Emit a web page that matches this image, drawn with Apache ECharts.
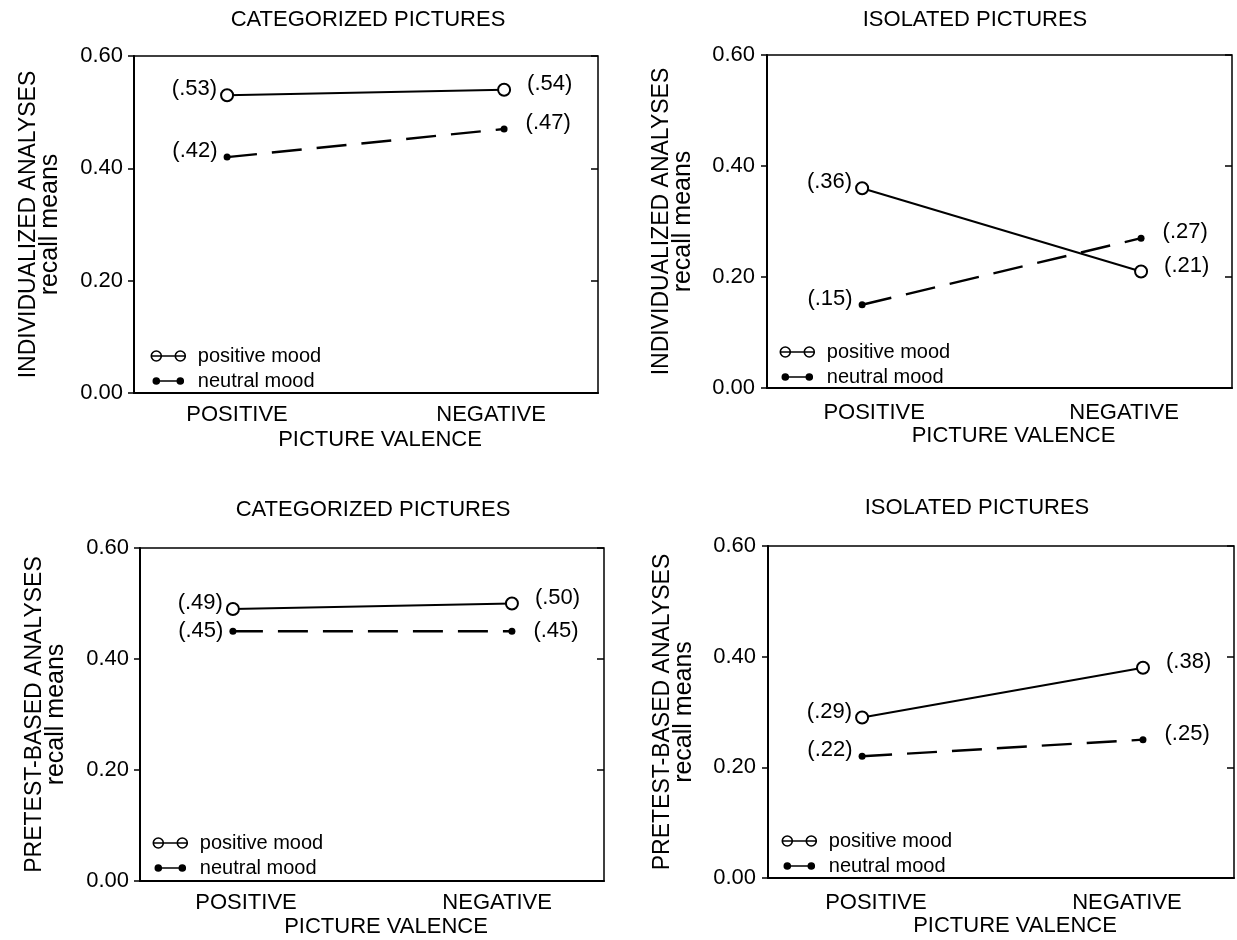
<!DOCTYPE html>
<html>
<head>
<meta charset="utf-8">
<script src="https://cdn.jsdelivr.net/npm/echarts@6/dist/echarts.min.js"></script>
<style>
html,body{margin:0;padding:0;background:#fff;}
#chart{width:1237px;height:940px;}
</style>
</head>
<body>
<div id="chart"></div>
<script>
// ---------- data ----------
const categories = ['POSITIVE', 'NEGATIVE'];
const seriesNames = ['positive mood', 'neutral mood'];
const panelTitles = ['CATEGORIZED PICTURES', 'ISOLATED PICTURES', 'CATEGORIZED PICTURES', 'ISOLATED PICTURES'];
const yAxisTitles = ['INDIVIDUALIZED ANALYSES', 'INDIVIDUALIZED ANALYSES', 'PRETEST-BASED ANALYSES', 'PRETEST-BASED ANALYSES'];
const yAxisSubtitle = 'recall means';
const xAxisTitle = 'PICTURE VALENCE';
const yTickMin = 0, yTickMax = 0.6, yTickStep = 0.2;

const individualizedCategorizedPositive = [0.53, 0.54];
const individualizedCategorizedNeutral  = [0.42, 0.47];
const individualizedIsolatedPositive    = [0.36, 0.21];
const individualizedIsolatedNeutral     = [0.15, 0.27];
const pretestCategorizedPositive        = [0.49, 0.50];
const pretestCategorizedNeutral         = [0.45, 0.45];
const pretestIsolatedPositive           = [0.29, 0.38];
const pretestIsolatedNeutral            = [0.22, 0.25];

const panelPositive = [individualizedCategorizedPositive, individualizedIsolatedPositive, pretestCategorizedPositive, pretestIsolatedPositive];
const panelNeutral  = [individualizedCategorizedNeutral, individualizedIsolatedNeutral, pretestCategorizedNeutral, pretestIsolatedNeutral];

// ---------- layout / style ----------
const FONT = "'Liberation Sans', Arial, sans-serif";
const layouts = [
  {left:134, top:56,  width:464, height:337, xmin:-0.336, xmax:1.339, lab:[0.036,0.953], labMargin:11, nameGap:36, title:[368,20],  legend:[150,346], nLabOff:-6, yLabMargin:11},
  {left:767, top:55,  width:465, height:333, xmin:-0.341, xmax:1.326, lab:[0.043,0.939], labMargin:14, nameGap:34, title:[975,20],  legend:[779,342], nLabOff:-6, yLabMargin:12},
  {left:140, top:548, width:464, height:333, xmin:-0.333, xmax:1.330, lab:[0.047,0.947], labMargin:11, nameGap:35, title:[373,510], legend:[152,833], nLabOff:0,  yLabMargin:11},
  {left:768, top:546, width:466, height:332, xmin:-0.335, xmax:1.324, lab:[0.049,0.943], labMargin:14, nameGap:36, title:[977,508], legend:[781,831], nLabOff:-6, yLabMargin:12}
];

const openIcon = 'path://M0,0M35,11M0.5,5.5A5,5,0,1,1,10.5,5.5A5,5,0,1,1,0.5,5.5ZM1,5.5L34,5.5M24.5,5.5A5,5,0,1,1,34.5,5.5A5,5,0,1,1,24.5,5.5Z';
const dotIcon  = 'path://M0,0M35,11M2.5,5.5A3,3,0,1,1,8.5,5.5A3,3,0,1,1,2.5,5.5ZM5.5,5.5L29.5,5.5M26.5,5.5A3,3,0,1,1,32.5,5.5A3,3,0,1,1,26.5,5.5Z';

function labelFmt(p) { return '(' + p.value[1].toFixed(2).slice(1) + ')'; }

function buildData(values, isOpen, yOff) {
  return values.map(function (v, i) {
    return {
      value: [i, v],
      label: {
        position: i === 0 ? 'left' : 'right',
        distance: i === 0 ? (isOpen ? 3 : 6) : (isOpen ? 16 : 18),
        offset: [0, yOff]
      }
    };
  });
}

const grid = [], xAxis = [], yAxis = [], series = [], legend = [], graphic = [];

layouts.forEach(function (L, g) {
  grid.push({left:L.left, top:L.top, width:L.width, height:L.height, show:true, borderColor:'#000', borderWidth:1.5, backgroundColor:'transparent'});
  xAxis.push({
    type:'value', gridIndex:g, min:L.xmin, max:L.xmax,
    splitLine:{show:false}, axisTick:{show:false},
    axisLine:{show:true, onZero:false, lineStyle:{color:'#000', width:2}},
    axisLabel:{customValues:L.lab, margin:L.labMargin, color:'#000', fontSize:22, fontFamily:FONT,
      formatter:function (v) { return v < 0.5 ? categories[0] : categories[1]; }},
    name:xAxisTitle, nameLocation:'middle', nameGap:L.nameGap,
    nameTextStyle:{color:'#000', fontSize:22, fontFamily:FONT, padding:[0,0,0,28]}
  });
  yAxis.push({
    type:'value', gridIndex:g, min:yTickMin, max:yTickMax, interval:yTickStep, position:'left',
    splitLine:{show:false},
    axisLine:{show:true, onZero:false, lineStyle:{color:'#000', width:2}},
    axisTick:{show:true, length:6, lineStyle:{color:'#000', width:1.5}},
    axisLabel:{color:'#000', fontSize:22, fontFamily:FONT, margin:L.yLabMargin, formatter:function (v) { return v.toFixed(2); }},
    name:'{a|' + yAxisTitles[g] + '}\n{b|' + yAxisSubtitle + '}',
    nameLocation:'middle', nameGap:74, nameRotate:90,
    nameTextStyle:{color:'#000', fontFamily:FONT, lineHeight:21,
      rich:{a:{fontSize:23, lineHeight:22, fontFamily:FONT, color:'#000'}, b:{fontSize:25, lineHeight:20, fontFamily:FONT, color:'#000'}}}
  });
  yAxis.push({
    type:'value', gridIndex:g, min:yTickMin, max:yTickMax, interval:yTickStep, position:'right',
    splitLine:{show:false}, axisLine:{show:false, onZero:false},
    axisTick:{show:true, inside:true, length:7, lineStyle:{color:'#000', width:1.5}},
    axisLabel:{show:false}
  });
  series.push({
    name:seriesNames[0], type:'line', xAxisIndex:g, yAxisIndex:g*2,
    data:buildData(panelPositive[g], true, -6),
    symbol:'emptyCircle', symbolSize:12, showAllSymbol:true,
    itemStyle:{color:'#000', borderWidth:2},
    lineStyle:{color:'#000', width:2},
    label:{show:true, formatter:labelFmt, color:'#000', fontSize:22, fontFamily:FONT},
    silent:true, animation:false, z:3
  });
  series.push({
    name:seriesNames[1], type:'line', xAxisIndex:g, yAxisIndex:g*2,
    data:buildData(panelNeutral[g], false, L.nLabOff),
    symbol:'circle', symbolSize:7, showAllSymbol:true,
    itemStyle:{color:'#000'},
    lineStyle:{color:'#000', width:2.4, type:[30, 15]},
    label:{show:true, formatter:labelFmt, color:'#000', fontSize:22, fontFamily:FONT},
    silent:true, animation:false, z:2
  });
  legend.push({
    left:L.legend[0], top:L.legend[1], orient:'vertical', itemGap:5, itemWidth:35, itemHeight:11,
    padding:0, selectedMode:false,
    textStyle:{color:'#000', fontSize:20, fontFamily:FONT, padding:[0,0,0,7]},
    data:[
      {name:seriesNames[0], icon:openIcon, itemStyle:{color:'rgba(0,0,0,0)', borderColor:'#000', borderWidth:1.6}},
      {name:seriesNames[1], icon:dotIcon, itemStyle:{color:'#000', borderColor:'#000', borderWidth:1.6}}
    ]
  });
  graphic.push({
    type:'text', x:L.title[0], y:L.title[1],
    style:{text:panelTitles[g], fontSize:22, fontFamily:FONT, fill:'#000', align:'center', verticalAlign:'middle'}
  });
});

const chart = echarts.init(document.getElementById('chart'), null, {renderer:'canvas'});
chart.setOption({
  animation:false,
  backgroundColor:'#fff',
  grid:grid, xAxis:xAxis, yAxis:yAxis, series:series, legend:legend, graphic:graphic
});
</script>
</body>
</html>
